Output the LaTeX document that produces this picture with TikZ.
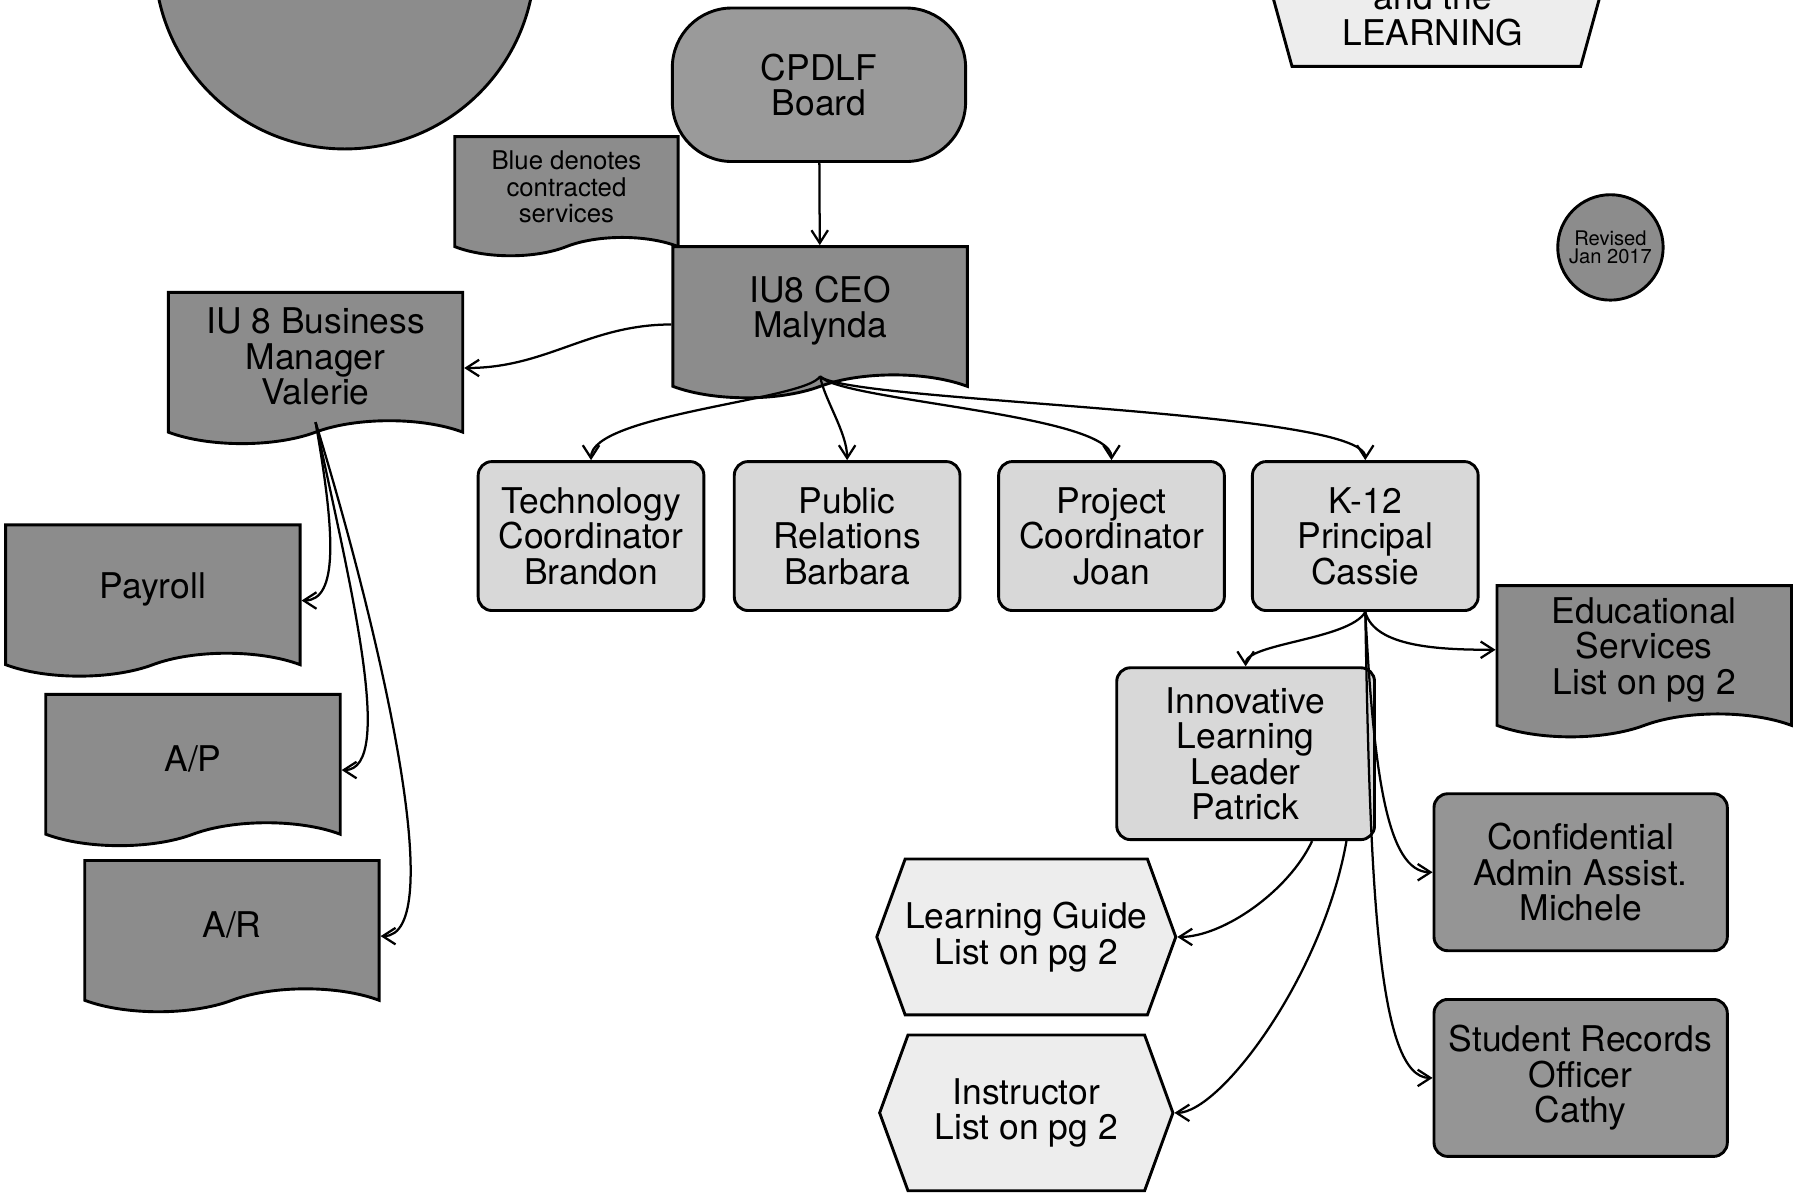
\documentclass[tikz,border=0pt]{standalone}
\usepackage{fontspec}
\setmainfont{TeX Gyre Heros}
\usetikzlibrary{positioning}
\usetikzlibrary{shapes.symbols}
\usetikzlibrary{arrows.meta}

\definecolor{docgray}{HTML}{8C8C8C}
\definecolor{boardgray}{HTML}{9A9A9A}
\definecolor{rolegray}{HTML}{D8D8D8}
\definecolor{staffgray}{HTML}{959595}
\definecolor{listgray}{HTML}{EDEDED}

\begin{document}
\begin{tikzpicture}[
            x=0.025cm, y=-0.025cm,
            >={Straight Barb[length=2.8mm, width=3.6mm]},
            every node/.style={align=center, inner sep=0pt, font=\fontsize{22}{22}\selectfont},
            doc/.style={draw, tape, tape bend top=none, tape bend height=5mm, fill=docgray, line width=1.8pt, minimum width=6.425cm, minimum height=3.3cm},
            role/.style={draw, rectangle, rounded corners=3mm, fill=rolegray, line width=1.8pt, minimum width=4.925cm, minimum height=3.25cm},
            staff/.style={role, fill=staffgray, minimum width=6.4cm, minimum height=3.425cm},
            list/.style={draw, signal, signal to=west and east, signal pointer angle=140, fill=listgray, line width=1.8pt, minimum width=6.4cm, minimum height=3.4cm},
            link/.style={->, line width=1.4pt}
        ]
            \useasboundingbox (0,0) rectangle (1568,1041);
            \clip (0,0) rectangle (1568,1041);

            % Header
            \node[circle, draw, fill=docgray, line width=1.8pt, minimum size=8.3cm] (seal) at (301,-36) {};
            \draw[fill=listgray, line width=1.8pt] (1101,-40) -- (1407,-40) -- (1380,58) -- (1128,58) -- cycle;
            \node (title) at (1251,13) {and the\\LEARNING};
            \node[circle, draw, fill=docgray, line width=1.8pt, minimum size=2.3cm, font=\fontsize{12.5}{11}\selectfont] (rev) at (1406,216) {Revised\\Jan 2017};

            % Board and CEO
            \node[draw, rounded corners=1.3cm, fill=boardgray, line width=1.8pt, minimum width=6.4cm, minimum height=3.35cm] (board) at (715,74) {CPDLF\\Board};
            \node[doc, anchor=north, minimum width=4.875cm, minimum height=2.6cm, tape bend height=4mm, font=\fontsize{16}{16.3}\selectfont] (note) at (494.5,118) {Blue denotes\\contracted\\services};
            \node[doc, anchor=north] (ceo) at (716,214) {IU8 CEO\\Malynda};
            \draw[link] (board) -- (ceo);

            % Business office
            \node[doc, anchor=north] (mgr) at (275.5,254) {IU 8 Business\\Manager\\Valerie};
            \node[doc, anchor=north] (payroll) at (133.5,457) {Payroll};
            \node[doc, anchor=north] (ap) at (168.5,605) {A/P};
            \node[doc, anchor=north] (ar) at (202.5,750) {A/R};
            \draw[link] ([yshift=-0.3cm]ceo.west) to[out=180, in=0] ([yshift=-0.25cm]mgr.east);
            \draw[link] (mgr.south) to[out=-80, in=0, out distance=2.5cm, in distance=0.8cm] ([yshift=-0.25cm]payroll.east);
            \draw[link] (mgr.south) to[out=-78, in=0, out distance=3.5cm, in distance=1.2cm] ([yshift=-0.25cm]ap.east);
            \draw[link] (mgr.south) to[out=-73, in=0, out distance=5cm, in distance=1.5cm] ([yshift=-0.25cm]ar.east);

            % Direct reports
            \node[role] (tech) at (516,468) {Technology\\Coordinator\\Brandon};
            \node[role, right=0.6cm of tech] (pr) {Public\\Relations\\Barbara};
            \node[role, right=0.78cm of pr] (joan) {Project\\Coordinator\\Joan};
            \node[role, right=0.55cm of joan] (k12) {K-12\\Principal\\Cassie};
            \draw[link] (ceo.south) to[out=-120, in=90, out distance=0.6cm, in distance=1cm] (tech.north);
            \draw[link] (ceo.south) to[out=-80, in=90, out distance=0.5cm, in distance=0.6cm] (pr.north);
            \draw[link] (ceo.south) to[out=-50, in=90, out distance=0.7cm, in distance=1cm] (joan.north);
            \draw[link] (ceo.south) to[out=-45, in=90, out distance=0.8cm, in distance=1.1cm] (k12.north);

            % School
            \node[role, minimum width=5.625cm, minimum height=3.75cm] (ill) at (1087.5,658) {Innovative\\Learning\\Leader\\Patrick};
            \node[doc, anchor=north] (edu) at (1435.5,510) {Educational\\Services\\List on pg 2};
            \node[staff] (admin) at (1380,761.5) {Confidential\\Admin Assist.\\Michele};
            \node[staff, below=1cm of admin] (records) {Student Records\\Officer\\Cathy};
            \node[list] (guide) at (896,818) {Learning Guide\\List on pg 2};
            \node[list, below=0.375cm of guide] (instr) {Instructor\\List on pg 2};
            \draw[link] (k12.south) to[out=-120, in=90, out distance=0.7cm, in distance=0.5cm] (ill.north);
            \draw[link] (k12.south) to[out=-75, in=180, out distance=0.8cm, in distance=1.2cm] (edu.west);
            \draw[link] (k12.south) to[out=-87, in=180, out distance=3.5cm, in distance=1cm] (admin.west);
            \draw[link] (k12.south) to[out=-89, in=180, out distance=6cm, in distance=1.2cm] (records.west);
            \draw[link] ([xshift=1.45cm]ill.south) to[out=-115, in=0, out distance=1.2cm, in distance=1cm] (guide.east);
            \draw[link] ([xshift=2.2cm]ill.south) to[out=-100, in=0, out distance=3cm, in distance=1cm] (instr.east);
        \end{tikzpicture}
\end{document}
